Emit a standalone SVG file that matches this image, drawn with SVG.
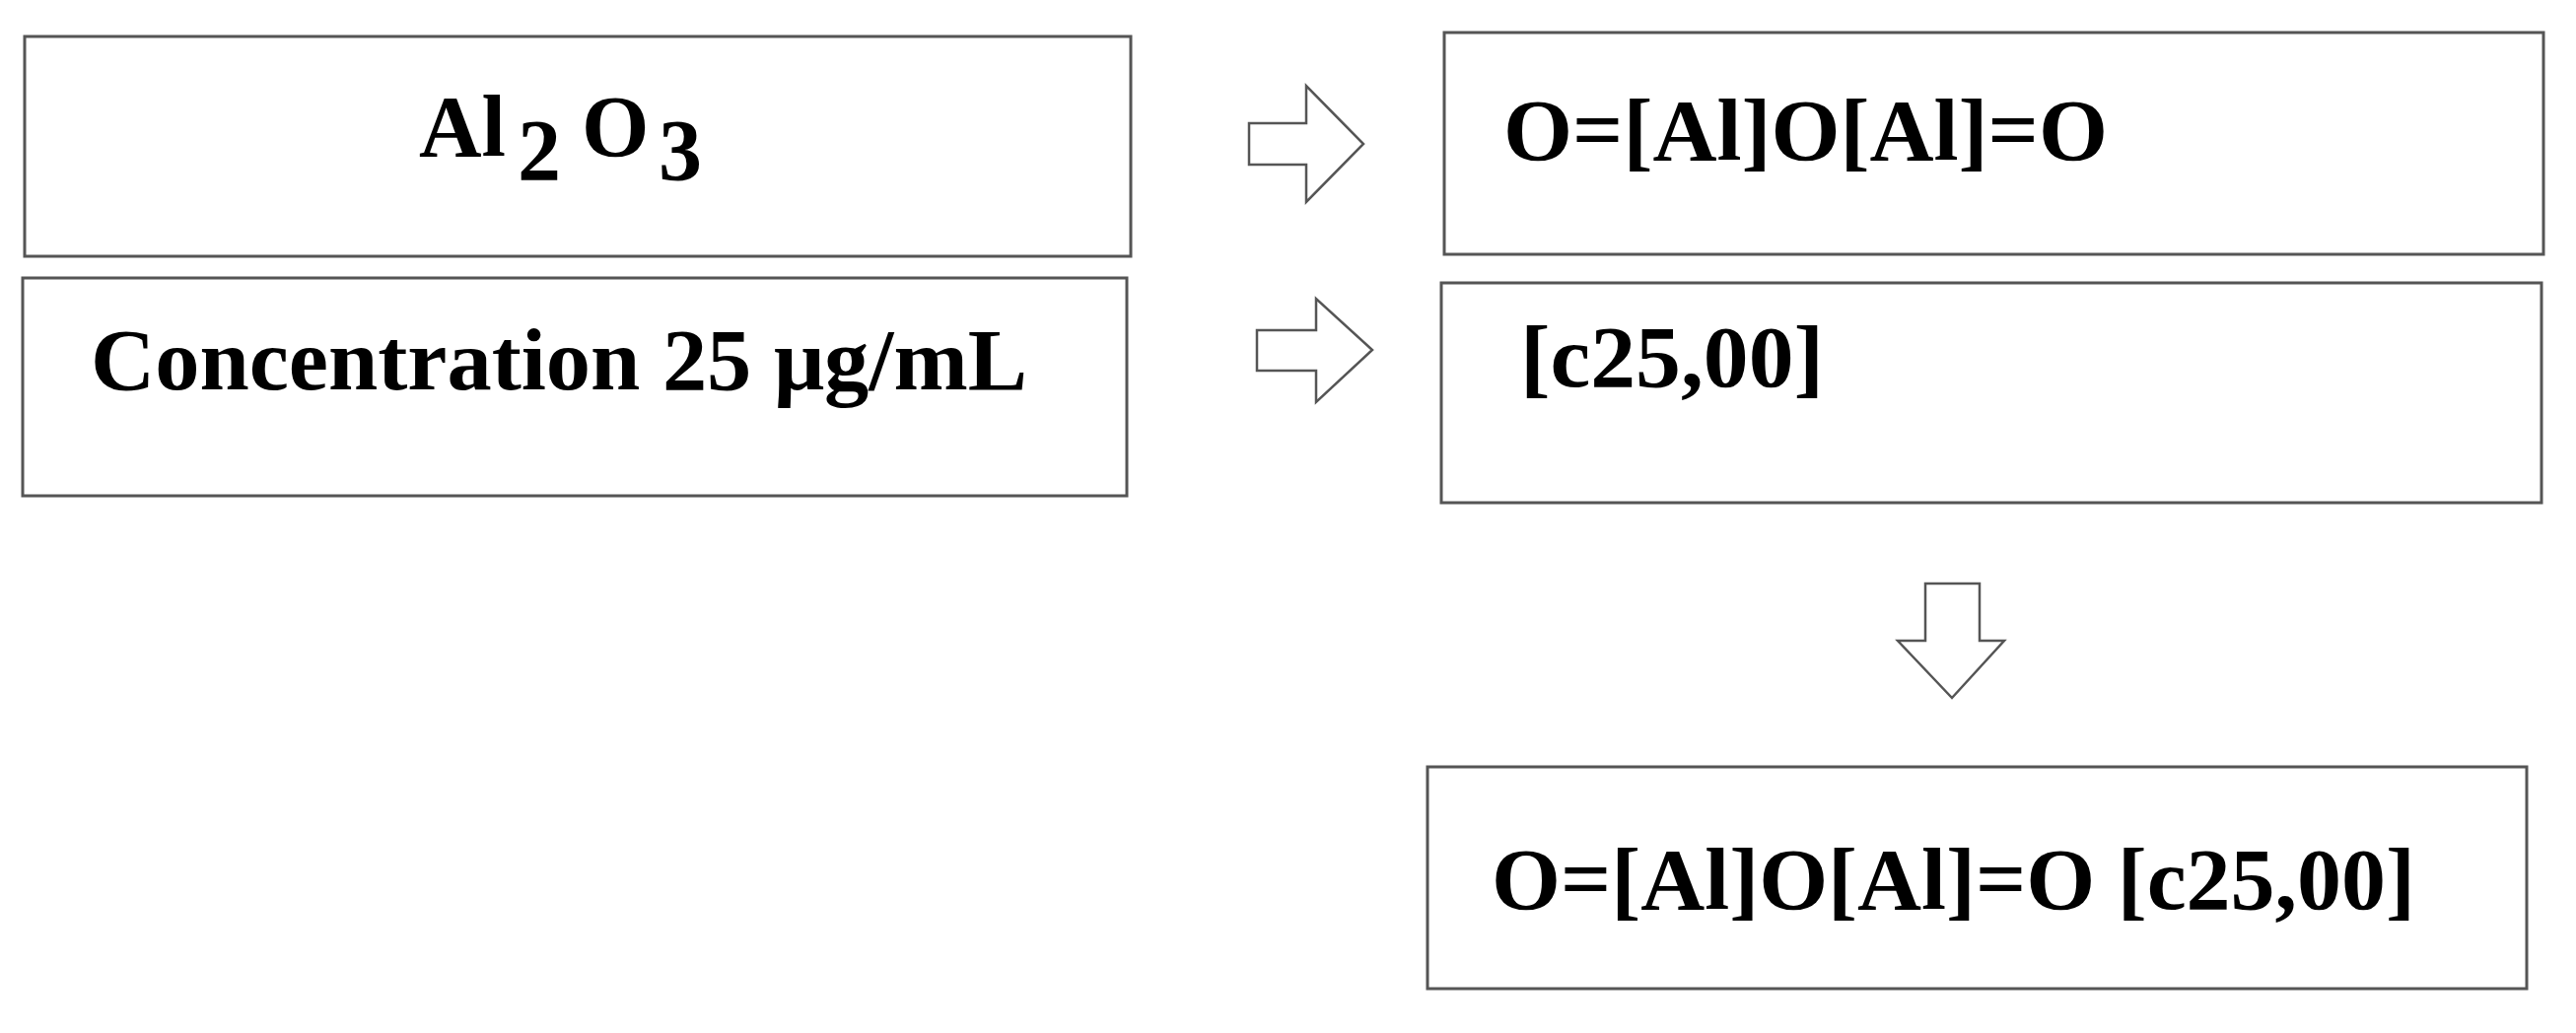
<svg xmlns="http://www.w3.org/2000/svg" width="2613" height="1048" viewBox="0 0 2613 1048">
<style>
.box{fill:#fff;stroke:#555;stroke-width:3}
.arr{fill:#fff;stroke:#555;stroke-width:2.5;stroke-linejoin:miter}
.t{font-family:"Liberation Serif",serif;font-weight:bold;font-size:88px;fill:#000}
</style>
<rect width="2613" height="1048" fill="#fff"/>
<g id="n1"><rect class="box" x="25" y="37" width="1122" height="223"/>
<text class="t" x="425" y="158">Al<tspan x="525" dy="24">2</tspan><tspan x="590" dy="-24">O</tspan><tspan x="668" dy="24">3</tspan></text></g>
<g id="n2"><rect class="box" x="23" y="282" width="1120" height="221"/>
<text class="t" x="92" y="395" textLength="950" lengthAdjust="spacingAndGlyphs">Concentration 25 μg/mL</text></g>
<g id="n3"><rect class="box" x="1465" y="33" width="1115" height="225"/>
<text class="t" x="1525" y="162" textLength="613" lengthAdjust="spacingAndGlyphs">O=[Al]O[Al]=O</text></g>
<g id="n4"><rect class="box" x="1462" y="287" width="1116" height="223"/>
<text class="t" x="1542" y="392" textLength="308" lengthAdjust="spacingAndGlyphs">[c25,00]</text></g>
<g id="n5"><rect class="box" x="1448" y="778" width="1115" height="225"/>
<text class="t" x="1513" y="922" textLength="937" lengthAdjust="spacingAndGlyphs">O=[Al]O[Al]=O [c25,00]</text></g>
<g id="connectors">
<path class="arr" d="M1267,125 H1325 V87 L1383,146 L1325,205 V167 H1267 Z"/>
<path class="arr" d="M1275,335 H1335 V303 L1392,355 L1335,408 V376 H1275 Z"/>
<path class="arr" d="M1953,592 H2008 V650 H2033 L1980,708 L1925,650 H1953 Z"/>
</g>
</svg>
